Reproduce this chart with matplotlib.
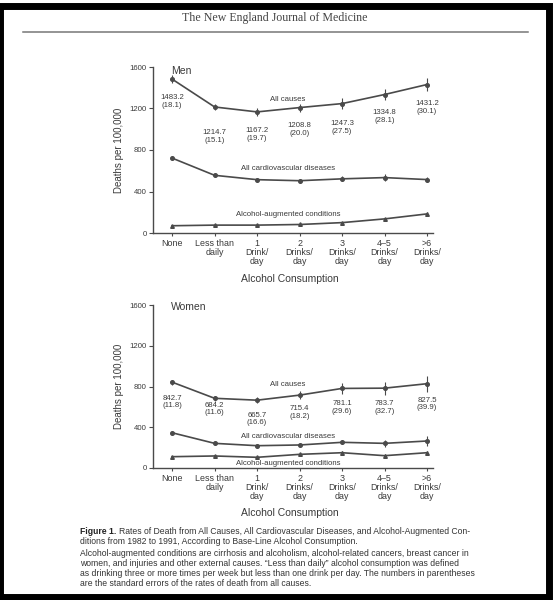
import matplotlib.pyplot as plt
from matplotlib.patches import Rectangle

categories = ["None", "Less than\ndaily", "1\nDrink/\nday", "2\nDrinks/\nday",
              "3\nDrinks/\nday", "4\u20135\nDrinks/\nday", ">6\nDrinks/\nday"]

# men, deaths per 100,000
men_all = [1483.2, 1214.7, 1167.2, 1208.8, 1247.3, 1334.8, 1431.2]
men_all_se = [18.1, 15.1, 19.7, 20.0, 27.5, 28.1, 30.1]
men_cvd = [722, 556, 514, 504, 522, 534, 515]
men_cvd_err = [0, 0, 0, 0, 25, 30, 28]
men_alc = [70, 76, 76, 82, 100, 136, 184]
men_alc_err = [0, 0, 0, 0, 8, 12, 15]

# women, deaths per 100,000
women_all = [842.7, 684.2, 665.7, 715.4, 781.1, 783.7, 827.5]
women_all_se = [11.8, 11.6, 16.6, 18.2, 29.6, 32.7, 39.9]
women_cvd = [346, 242, 219, 226, 252, 242, 265]
women_cvd_err = [0, 0, 0, 10, 20, 36, 49]
women_alc = [111, 118, 105, 134, 150, 121, 150]
women_alc_err = [0, 0, 0, 8, 12, 14, 18]

# layout: label heights (data units) for the all-cause numbers
men_lab_y = [1270, 931, 953, 994, 1018, 1120, 1212]
women_lab_y = [648, 579, 481, 545, 594, 594, 628]

LINE = "#4a4a4a"
TXT = "#3a3a3a"
SANS = "Liberation Sans"

fig = plt.figure(figsize=(5.56, 6.0), dpi=100)
fig.patch.set_facecolor("white")

# black frame round the page
fig.patches.append(Rectangle((0.0, 0.005), 0.988, 0.985, transform=fig.transFigure,
                             fill=False, edgecolor="black", linewidth=5, zorder=10))

fig.text(0.495, 0.970, "The New England Journal of Medicine", ha="center", va="center",
         family="Liberation Serif", fontsize=8.6, color="#444444")
fig.add_artist(plt.Line2D([23 / 556, 528 / 556], [1 - 31.7 / 600] * 2,
                          transform=fig.transFigure, color="#777777", lw=1.1))


def panel(ax, name, allc, se, cvd, cvd_e, alc, alc_e, lab_y, names_y, xlab_y):
    x = list(range(len(categories)))
    err = [1.96 * s for s in se]
    ax.errorbar(x, allc, yerr=err, color=LINE, lw=1.2, marker="o", ms=2.6,
                elinewidth=0.8, capsize=0)
    ax.errorbar(x, cvd, yerr=cvd_e, color=LINE, lw=1.2, marker="o", ms=2.6,
                elinewidth=0.8, capsize=0)
    ax.errorbar(x, alc, yerr=alc_e, color=LINE, lw=1.2, marker="^", ms=2.6,
                elinewidth=0.8, capsize=0)
    for i in x:
        ax.text(i, lab_y[i], "%.1f\n(%.1f)" % (allc[i], se[i]), ha="center", va="center",
                fontsize=5.6, color=TXT, family=SANS, linespacing=1.15)
    ax.text(2.73, names_y[0], "All causes", ha="center", va="center", fontsize=5.6,
            color=TXT, family=SANS)
    ax.text(2.73, names_y[1], "All cardiovascular diseases", ha="center", va="center",
            fontsize=5.6, color=TXT, family=SANS)
    ax.text(2.73, names_y[2], "Alcohol-augmented conditions", ha="center", va="center",
            fontsize=5.6, color=TXT, family=SANS)
    ax.text(-0.03, names_y[3], name, ha="left", va="center", fontsize=7.5, color=TXT,
            family=SANS)
    ax.set_xlim(-0.45, 6.14)
    ax.set_ylim(0, 1600)
    ax.set_yticks([0, 400, 800, 1200, 1600])
    ax.set_xticks(x)
    ax.set_xticklabels(categories, fontsize=6.4, color=TXT, family=SANS, linespacing=0.95)
    ax.tick_params(axis="y", labelsize=5.6, labelcolor=TXT, length=3, width=0.8,
                   color=LINE, pad=1.5)
    ax.tick_params(axis="x", length=2.5, width=0.8, color=LINE, pad=2)
    for t in ax.get_yticklabels():
        t.set_family(SANS)
    for s in ["top", "right"]:
        ax.spines[s].set_visible(False)
    for s in ["left", "bottom"]:
        ax.spines[s].set_color(LINE)
        ax.spines[s].set_linewidth(1.0)
    ax.set_ylabel("Deaths per 100,000", fontsize=7, color=TXT, family=SANS, labelpad=4)
    ax.set_xlabel("Alcohol Consumption", fontsize=7.5, color=TXT, family=SANS)
    ax.xaxis.set_label_coords(0.49, xlab_y)


ax1 = fig.add_axes([153 / 556, 1 - 233 / 600, 280 / 556, 166 / 600])
panel(ax1, "Men", men_all, men_all_se, men_cvd, men_cvd_err, men_alc, men_alc_err,
      men_lab_y, [1290, 620, 181, 1560], -0.25)

ax2 = fig.add_axes([153 / 556, 1 - 468 / 600, 280 / 556, 163 / 600])
panel(ax2, "Women", women_all, women_all_se, women_cvd, women_cvd_err, women_alc,
      women_alc_err, women_lab_y, [822, 307, 46, 1580], -0.245)

# caption
cap_x = 80 / 556
cap_fs = 6.2
fig.canvas.draw()
r = fig.canvas.get_renderer()
b = fig.text(cap_x, 1 - 531 / 600, "Figure 1.", fontsize=cap_fs, fontweight="bold",
             color="#222222", family=SANS, va="center")
bb = b.get_window_extent(renderer=r)
fig.text(bb.x1 / fig.bbox.width + 0.004, 1 - 531 / 600,
         "Rates of Death from All Causes, All Cardiovascular Diseases, and Alcohol-Augmented Con-",
         fontsize=cap_fs, color="#333333", family=SANS, va="center")
rest = [
    (541, "ditions from 1982 to 1991, According to Base-Line Alcohol Consumption."),
    (553, "Alcohol-augmented conditions are cirrhosis and alcoholism, alcohol-related cancers, breast cancer in"),
    (563, "women, and injuries and other external causes. \u201cLess than daily\u201d alcohol consumption was defined"),
    (573, "as drinking three or more times per week but less than one drink per day. The numbers in parentheses"),
    (583, "are the standard errors of the rates of death from all causes."),
]
for yy, s in rest:
    fig.text(cap_x, 1 - yy / 600, s, fontsize=cap_fs, color="#333333", family=SANS, va="center")

fig.savefig("out.png", dpi=100)
